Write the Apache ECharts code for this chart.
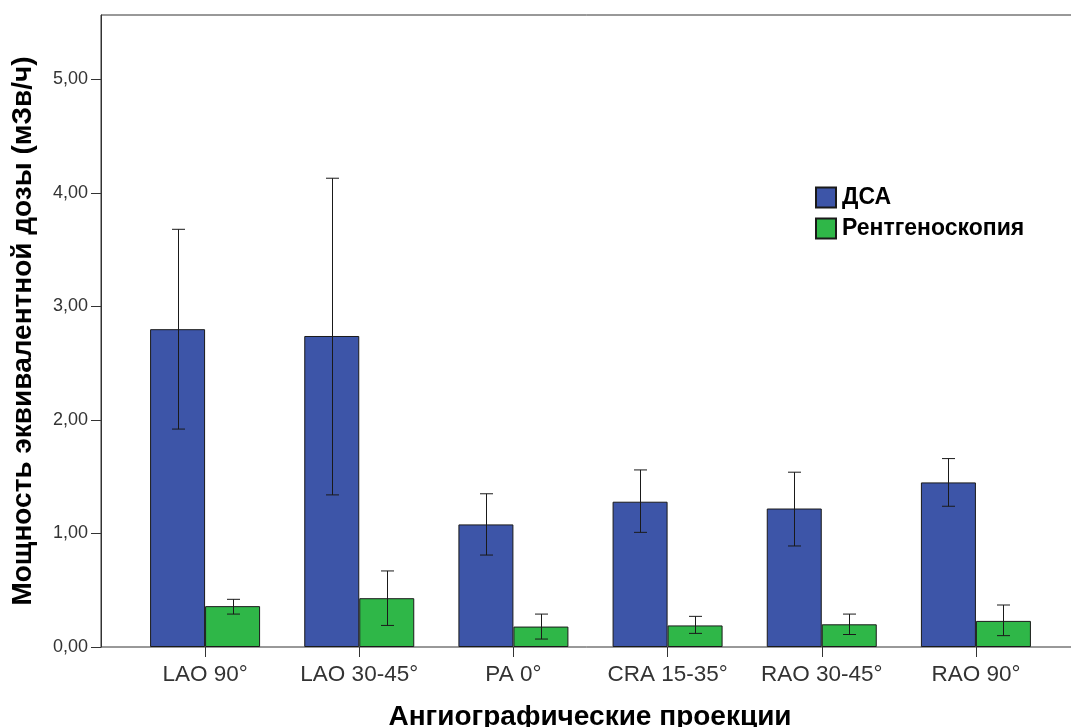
<!DOCTYPE html>
<html>
<head>
<meta charset="utf-8">
<script src="https://cdn.jsdelivr.net/npm/echarts@6/dist/echarts.min.js"></script>
<style>
  html, body { margin: 0; padding: 0; background: #fff; }
  #chart { width: 1071px; height: 727px; }
</style>
</head>
<body>
<div id="chart"></div>
<script>
// Angiographic projections
const categories = ['LAO 90°', 'LAO 30-45°', 'PA 0°', 'CRA 15-35°', 'RAO 30-45°', 'RAO 90°'];

// Mean equivalent dose rate (mSv/h) with error bar bounds
const dsaMean  = [2.80, 2.74, 1.08, 1.28, 1.22, 1.45];
const dsaLow   = [1.92, 1.34, 0.81, 1.01, 0.89, 1.24];
const dsaHigh  = [3.68, 4.13, 1.35, 1.56, 1.54, 1.66];

const fluoroMean = [0.36, 0.43, 0.18, 0.19, 0.20, 0.23];
const fluoroLow  = [0.29, 0.19, 0.07, 0.12, 0.11, 0.10];
const fluoroHigh = [0.42, 0.67, 0.29, 0.27, 0.29, 0.37];

const yTicks = [0, 1, 2, 3, 4, 5];

const FONT = "'Liberation Sans', Arial, sans-serif";
const BAR_W = 55;

function errorSeries(name, low, high, shift) {
  return {
    name: name,
    type: 'custom',
    xAxisIndex: 1,
    yAxisIndex: 1,
    z: 5,
    silent: true,
    data: categories.map((c, i) => [i, low[i], high[i]]),
    renderItem: function (params, api) {
      const i = api.value(0);
      const pLow = api.coord([i, api.value(1)]);
      const pHigh = api.coord([i, api.value(2)]);
      const x = Math.round(pLow[0] + shift) + 0.5;
      const cap = 6.5;
      const style = { stroke: '#1a1a1a', lineWidth: 1 };
      return {
        type: 'group',
        children: [
          { type: 'line', shape: { x1: x, y1: pHigh[1], x2: x, y2: pLow[1] }, style: style },
          { type: 'line', shape: { x1: x - cap, y1: pHigh[1], x2: x + cap, y2: pHigh[1] }, style: style },
          { type: 'line', shape: { x1: x - cap, y1: pLow[1], x2: x + cap, y2: pLow[1] }, style: style }
        ]
      };
    }
  };
}

const chart = echarts.init(document.getElementById('chart'), null, { renderer: 'canvas' });

chart.setOption({
  animation: false,
  backgroundColor: '#ffffff',
  textStyle: { fontFamily: FONT },
  grid: [
    // outer frame holding the axis titles
    { left: 101, right: -8, top: 15, bottom: 80, show: true, borderColor: '#333', borderWidth: 1,
      backgroundColor: 'transparent', containLabel: false, outerBoundsMode: 'none' },
    // data area
    { left: 128, right: 18, top: 15, bottom: 80, containLabel: false, outerBoundsMode: 'none' }
  ],
  legend: {
    data: ['ДСА', 'Рентгеноскопия'],
    orient: 'vertical',
    left: 815,
    top: 186,
    padding: 0,
    itemWidth: 20,
    itemHeight: 20,
    itemGap: 8,
    icon: 'rect',
    textStyle: { fontFamily: FONT, fontSize: 23, fontWeight: 'bold', color: '#000', padding: [0, 0, 0, 1] }
  },
  xAxis: [
    {
      gridIndex: 0, type: 'value', min: 0, max: 1,
      axisLine: { show: false }, axisTick: { show: false }, axisLabel: { show: false }, splitLine: { show: false },
      name: 'Ангиографические проекции', nameLocation: 'middle', nameGap: 56,
      nameTextStyle: { fontFamily: FONT, fontSize: 28, fontWeight: 'bold', color: '#000' }
    },
    {
      gridIndex: 1, type: 'category', data: categories,
      axisLine: { show: false },
      axisTick: { show: true, alignWithLabel: true, length: 10, lineStyle: { color: '#333', width: 1 } },
      axisLabel: { interval: 0, hideOverlap: false, fontFamily: FONT, fontSize: 22.5, color: '#333', margin: 16 },
      splitLine: { show: false }
    }
  ],
  yAxis: [
    {
      gridIndex: 0, type: 'value', min: 0, max: 1,
      axisLine: { show: false }, axisTick: { show: false }, axisLabel: { show: false }, splitLine: { show: false },
      name: 'Мощность эквивалентной дозы (мЗв/ч)', nameLocation: 'middle', nameGap: 64,
      nameTextStyle: { fontFamily: FONT, fontSize: 28, fontWeight: 'bold', color: '#000' }
    },
    {
      gridIndex: 1, type: 'value', min: 0, max: 5.568, offset: 27,
      axisLine: { show: true, lineStyle: { color: '#333', width: 1 } },
      axisTick: { show: true, length: 10, customValues: yTicks, lineStyle: { color: '#333', width: 1 } },
      axisLabel: {
        customValues: yTicks, fontFamily: FONT, fontSize: 18, color: '#333', margin: 13,
        formatter: v => v.toFixed(2).replace('.', ',')
      },
      splitLine: { show: false }
    }
  ],
  series: [
    {
      name: 'ДСА', type: 'bar', xAxisIndex: 1, yAxisIndex: 1,
      data: dsaMean, barWidth: BAR_W, barGap: '0%',
      itemStyle: { color: '#3d55a8', borderColor: '#1a1a1a', borderWidth: 1 }
    },
    {
      name: 'Рентгеноскопия', type: 'bar', xAxisIndex: 1, yAxisIndex: 1,
      data: fluoroMean, barWidth: BAR_W, barGap: '0%',
      itemStyle: { color: '#2fb748', borderColor: '#1a1a1a', borderWidth: 1 }
    },
    errorSeries('ДСА (интервал)', dsaLow, dsaHigh, -BAR_W / 2),
    errorSeries('Рентгеноскопия (интервал)', fluoroLow, fluoroHigh, BAR_W / 2)
  ]
});
</script>
</body>
</html>
